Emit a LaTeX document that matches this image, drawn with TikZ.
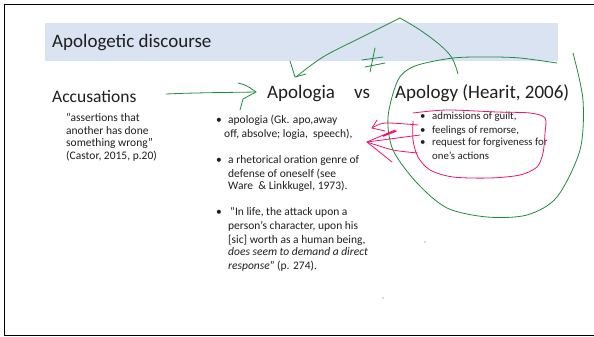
\documentclass[tikz,border=0pt]{standalone}
\usepackage{fontspec}
\setmainfont{Carlito}
\usetikzlibrary{positioning}
\definecolor{bandblue}{RGB}{218,227,242}
\definecolor{inkgreen}{RGB}{30,140,60}
\definecolor{inkpink}{RGB}{236,20,110}
\definecolor{slidetext}{RGB}{30,30,30}

\begin{document}
\begin{tikzpicture}[x=1pt, y=-1pt,
    headnode/.style={anchor=base west, inner sep=0pt, text=slidetext, font=\fontsize{19}{22}\selectfont},
    linenode/.style={anchor=base west, inner sep=0pt, text=slidetext, font=\fontsize{11.5}{13}\selectfont},
    smallnode/.style={anchor=base west, inner sep=0pt, text=slidetext, font=\fontsize{10.8}{12}\selectfont},
    greenink/.style={draw=inkgreen, line width=0.8pt, line cap=round, line join=round},
    pinkink/.style={draw=inkpink, line width=0.8pt, line cap=round, line join=round}]
        \useasboundingbox (0,0) rectangle (594,337);
        % Frame and title band
        \draw[line width=1.6pt] (600,4.5) -- (4.5,4.5) -- (4.5,335.5) -- (600,335.5);
        \fill[bandblue] (45,23) rectangle (558,61);
        \node[headnode] (title) at (52,48) {Apologetic discourse};

        % Headings
        \node[headnode, font=\fontsize{17.5}{20}\selectfont] (acc) at (52,102) {Accusations};
        \node[headnode] (apologia) at (267,98) {Apologia};
        \node[headnode] (vs) at (354,98) {vs};
        \node[headnode] (apology) at (395,98) {Apology (Hearit, 2006)};

        % Quote under Accusations
        \foreach \ty/\tx [count=\i] in {121/{“assertions that}, 134/{another has done}, 146/{something wrong”}, 159/{(Castor, 2015, p.20)}}
            \node[linenode] (quote\i) at (66,\ty) {\tx};

        % Apologia bullets
        \foreach \by [count=\i] in {123, 163, 215}
            \node[linenode] (dotL\i) at (216,\by) {•};
        \foreach \bx/\by/\tx [count=\i] in {228/123/{apologia (Gk. apo,away}, 224/137/{off, absolve; logia,\ \ speech),},
            228/163/{a rhetorical oration genre of}, 228/177/{defense of oneself (see}, 228/189/{Ware \ \& Linkkugel, 1973).},
            230/215/{“In life, the attack upon a}, 228/229/{person’s character, upon his}, 228/243/{[sic] worth as a human being,},
            228/255/{\textit{does seem to demand a direct}}, 228/269/{\textit{response}” (p. 274).}}
            \node[linenode] (lineL\i) at (\bx,\by) {\tx};

        % Apology bullets
        \foreach \by [count=\i] in {119, 133, 145}
            \node[smallnode] (dotR\i) at (420,\by) {•};
        \foreach \by/\tx [count=\i] in {119/{admissions of guilt,}, 133/{feelings of remorse,}, 145/{request for forgiveness for}, 159/{one’s actions}}
            \node[smallnode] (lineR\i) at (432,\by) {\tx};

        % Green ink
        \coordinate (accR) at (166,94);
        \coordinate (apologiaL) at (256,92);
        \coordinate (apex) at (400,18);
        \draw[greenink] (accR) .. controls (200,92.5) and (230,92.5) .. (apologiaL);
        \draw[greenink] (238,83) .. controls (246,85) .. (apologiaL) -- (243,99) .. controls (241,104) .. (240,110);
        \draw[greenink] plot[smooth, tension=0.6] coordinates {(458,74) (452,58) (440,45) (420,30) (apex)};
        \draw[greenink] plot[smooth, tension=0.6] coordinates {(apex) (360,38) (323,57) (296,77)};
        \draw[greenink] (290,61) -- (295,77) -- (306,74);
        \draw[greenink] (375,48) -- (370,72);
        \draw[greenink] (362,60) -- (383,57);
        \draw[greenink] (365,67) -- (385,63);
        \draw[greenink] plot[smooth] coordinates {(557,63) (520,58) (490,57) (453,58) (415,66) (398,80) (388,117) (393,150) (417,183) (447,208) (487,217) (527,215) (557,197) (580,150) (583,100) (573,53)};
        \fill[inkgreen] (383,298) circle (0.7);

        % Pink ink
        \draw[pinkink] plot[smooth] coordinates {(413,113) (447,110) (497,112) (530,113) (545,118) (545,133) (543,153) (537,167) (520,175) (490,178) (453,177) (430,170) (418,157) (413,140) (413,121)};
        \draw[pinkink] plot[smooth] coordinates {(418,125) (385,123) (372,128)};
        \draw[pinkink] (377,120) -- (372,128) -- (385,131);
        \draw[pinkink] (420,135) -- (367,142);
        \draw[pinkink] plot[smooth] coordinates {(418,153) (393,150) (367,142)};
        \draw[pinkink] (395,130) -- (367,142) -- (392,162);
        \draw[pinkink, line width=1.6pt] (383,136) -- (396,131);
        \fill[inkpink] (425,242) circle (0.7);
    \end{tikzpicture}
\end{document}
